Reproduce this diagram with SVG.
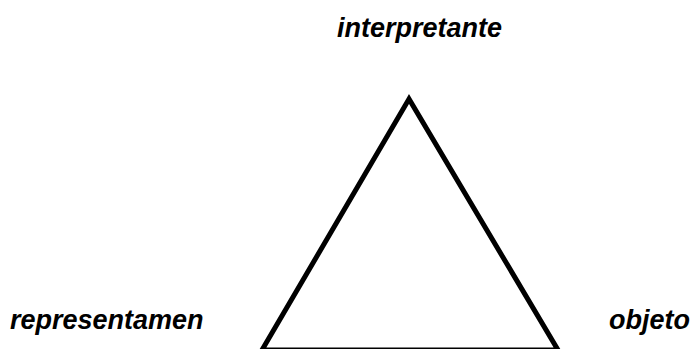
<svg xmlns="http://www.w3.org/2000/svg" width="692" height="349" viewBox="0 0 692 349">
<style>
.lbl{font-family:"Liberation Sans",Arial,sans-serif;font-weight:bold;font-style:italic;font-size:27px;fill:#000}
.edge{fill:none;stroke:#000;stroke-width:5;stroke-linejoin:miter}
</style>
<rect width="692" height="349" fill="#fff"/>
<g id="connectors">
<polygon class="edge" points="409,99 262,350 558,350"/>
</g>
<g id="interpretante"><text class="lbl" x="337" y="37">interpretante</text></g>
<g id="representamen"><text class="lbl" x="10" y="329">representamen</text></g>
<g id="objeto"><text class="lbl" x="609" y="329">objeto</text></g>
</svg>
